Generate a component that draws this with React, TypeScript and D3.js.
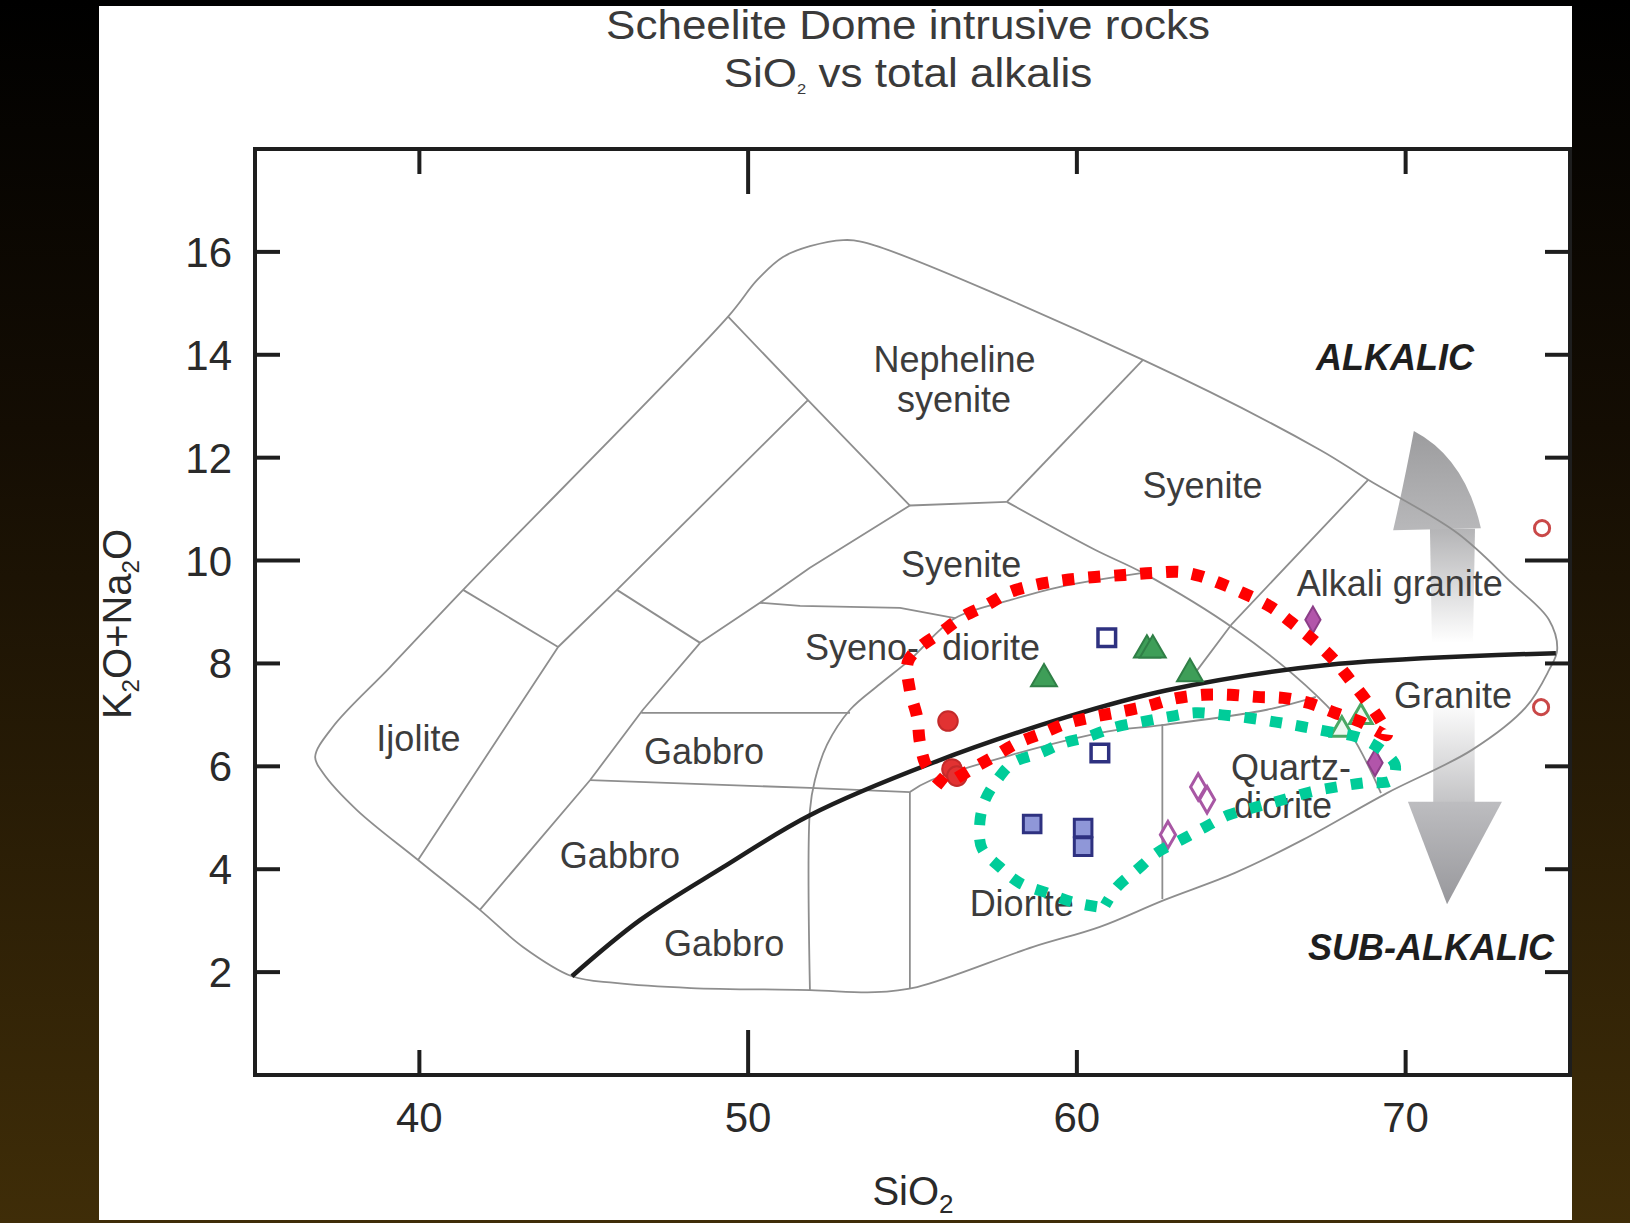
import * as d3 from 'd3';

type Pt = [number, number];

// axes
const xTicks = [40, 50, 60, 70];
const yTicks = [2, 4, 6, 8, 10, 12, 14, 16];

// TAS plutonic fields (SiO2 wt%, Na2O+K2O wt%)
const outline: Pt[] = [
  [36.83, 6.18], [37.37, 6.77], [39.11, 7.93], [41.33, 9.43], [49.39, 14.74], [50.27, 15.45],
  [51.06, 15.9], [51.88, 16.11], [52.89, 16.23], [53.62, 16.17], [62.01, 13.9], [67.4, 12.15],
  [68.86, 11.57], [71.56, 10.54], [73.24, 9.56], [74.36, 8.85], [74.61, 8.26], [74.36, 7.87],
  [73.66, 7.15], [72.02, 6.32], [69.43, 5.48], [66.87, 4.57], [64.81, 3.93], [62.65, 3.4],
  [60.7, 2.88], [58.67, 2.49], [55.14, 1.71], [53.86, 1.61], [51.88, 1.65], [48.26, 1.69],
  [45.95, 1.79], [44.64, 1.92], [43.15, 2.49], [41.84, 3.21], [39.96, 4.18], [38.1, 5.15], [37.07, 5.87],
];
const ijoliteTop: Pt[] = [[41.33, 9.43], [44.22, 8.32]];
const ijoliteRight: Pt[] = [[51.82, 13.12], [46.01, 9.43], [44.22, 8.32], [39.96, 4.18]];
const nephSyeniteLeft: Pt[] = [[49.39, 14.74], [51.82, 13.12], [54.92, 11.07]];
const stripTop: Pt[] = [[46.01, 9.43], [48.54, 8.4]];
const gabbroLeft: Pt[] = [[54.92, 11.07], [51.88, 9.86], [50.36, 9.18], [48.54, 8.4], [46.8, 7.1], [45.19, 5.73], [41.84, 3.21]];
const nephSyeniteBase: Pt[] = [[54.92, 11.07], [57.87, 11.14]];
const nephSyeniteRight: Pt[] = [[57.87, 11.14], [62.01, 13.9]];
const syeniteRight: Pt[] = [[57.87, 11.14], [60.55, 10.21], [62.01, 9.76], [64.84, 8.65], [67.27, 7.39], [68.31, 6.65], [69.25, 5.48]];
const alkGraniteLeft: Pt[] = [[68.86, 11.57], [64.72, 8.77], [63.44, 7.68]];
const dioriteTop: Pt[] = [[54.92, 5.5], [55.56, 5.73], [60.7, 6.65], [62.59, 6.8], [65.78, 7.1], [67.27, 7.35]];
const qtzDioriteLeft: Pt[] = [[62.6, 6.82], [62.6, 3.42]];
const gabbroTop: Pt[] = [[46.75, 7.04], [53.1, 7.04]];
const gabbroBase: Pt[] = [[45.19, 5.73], [51.88, 5.58], [54.92, 5.5]];
const syenoDioriteBase: Pt[] = [
  [51.88, 1.65], [51.88, 5.15], [52.03, 5.73], [52.4, 6.42], [53.1, 7.1], [54.01, 7.6],
  [54.92, 8.07], [56.29, 8.88], [57.97, 9.23], [59.49, 9.49], [62.01, 9.76],
];
const syenoDioriteTop: Pt[] = [[50.36, 9.18], [51.58, 9.12], [54.62, 9.08], [56.29, 8.88]];
const dioriteLeft: Pt[] = [[54.92, 1.69], [54.92, 5.5]];
const straightLines = [ijoliteTop, ijoliteRight, nephSyeniteLeft, stripTop, gabbroLeft, nephSyeniteBase,
  nephSyeniteRight, alkGraniteLeft, qtzDioriteLeft, gabbroTop, gabbroBase, syenoDioriteTop, dioriteLeft];
const curvedLines = [syeniteRight, dioriteTop, syenoDioriteBase];

// alkalic / sub-alkalic divide
const alkalicDivide: Pt[] = [
  [44.64, 1.92], [46.71, 3.01], [49.24, 4.04], [51.88, 5.05], [55.62, 6.07],
  [59.7, 6.96], [62.74, 7.48], [67.61, 7.97], [74.57, 8.2],
];

// samples
const redFilled: Pt[] = [[56.08, 6.88], [56.2, 5.95], [56.35, 5.81]];
const redOpen: Pt[] = [[74.15, 10.63], [74.12, 7.15]];
const blueOpen: Pt[] = [[60.91, 8.5], [60.7, 6.26]];
const blueFilled: Pt[] = [[58.64, 4.88], [60.19, 4.8], [60.19, 4.44]];
const greenFilled: Pt[] = [[59.0, 7.7], [62.13, 8.26], [62.31, 8.26], [63.44, 7.8]];
const greenOpen: Pt[] = [[68.06, 6.71], [68.64, 6.96]];
const purpleFilled: Pt[] = [[67.18, 8.85], [69.07, 6.07]];
const purpleOpen: Pt[] = [[63.69, 5.6], [63.96, 5.35], [62.77, 4.67]];

// hand drawn groupings
const redLoop: Pt[] = [
  [55.99, 5.64], [55.44, 5.99], [55.23, 6.45], [55.14, 6.96], [54.92, 7.48], [54.86, 8.03], [55.23, 8.32],
  [55.84, 8.59], [56.51, 8.9], [57.27, 9.14], [57.9, 9.37], [58.76, 9.53], [59.61, 9.62], [60.55, 9.68],
  [61.43, 9.72], [62.28, 9.76], [63.14, 9.78], [63.75, 9.7], [64.35, 9.56], [65.05, 9.37], [65.9, 9.1],
  [66.54, 8.79], [67.18, 8.46], [67.82, 8.07], [68.31, 7.68], [68.79, 7.29], [69.22, 6.9], [69.43, 6.61],
  [68.64, 6.86], [67.85, 7.04], [67.06, 7.23], [66.27, 7.33], [65.48, 7.35], [64.66, 7.39], [63.84, 7.39],
  [62.92, 7.31], [62.13, 7.17], [61.31, 7.06], [60.49, 6.96], [59.7, 6.84], [58.97, 6.65], [58.18, 6.45],
  [57.45, 6.18], [56.75, 5.93], [56.08, 5.66],
];
const greenLoop: Pt[] = [
  [60.61, 3.27], [59.88, 3.36], [59.09, 3.54], [58.27, 3.73], [57.66, 4.04], [57.11, 4.41], [57.05, 4.92],
  [57.21, 5.35], [57.57, 5.73], [58.06, 6.07], [58.88, 6.26], [59.58, 6.45], [60.31, 6.57], [61.1, 6.75],
  [61.92, 6.86], [62.77, 6.96], [63.59, 7.04], [64.41, 7.0], [65.24, 6.94], [66.06, 6.86], [66.88, 6.77],
  [67.7, 6.67], [68.52, 6.57], [69.13, 6.38], [69.68, 6.03], [69.56, 5.73], [68.73, 5.68], [67.91, 5.6],
  [67.09, 5.5], [66.27, 5.35], [65.45, 5.21], [64.6, 5.05], [63.9, 4.82], [63.17, 4.57], [62.44, 4.32],
  [61.83, 3.99], [61.22, 3.65], [60.86, 3.3],
];

const fieldLabels = [
  { text: 'Ijolite', x: 39.97, y: 6.29, anchor: 'middle' },
  { text: 'Gabbro', x: 48.66, y: 6.05, anchor: 'middle' },
  { text: 'Gabbro', x: 46.1, y: 4.03, anchor: 'middle' },
  { text: 'Gabbro', x: 49.27, y: 2.31, anchor: 'middle' },
  { text: 'Nepheline', x: 56.28, y: 13.67, anchor: 'middle' },
  { text: 'syenite', x: 56.26, y: 12.88, anchor: 'middle' },
  { text: 'Syenite', x: 63.82, y: 11.21, anchor: 'middle' },
  { text: 'Syenite', x: 56.48, y: 9.69, anchor: 'middle' },
  { text: 'Syeno-', x: 51.73, y: 8.07, anchor: 'start' },
  { text: 'diorite', x: 55.9, y: 8.07, anchor: 'start' },
  { text: 'Diorite', x: 58.32, y: 3.09, anchor: 'middle' },
  { text: 'Quartz-', x: 64.69, y: 5.73, anchor: 'start' },
  { text: 'diorite', x: 64.78, y: 5.0, anchor: 'start' },
  { text: 'Alkali granite', x: 69.82, y: 9.31, anchor: 'middle' },
  { text: 'Granite', x: 71.44, y: 7.13, anchor: 'middle' },
];

const FONT = '"Liberation Sans", Arial, Helvetica, sans-serif';

export default function App() {
  const W = 1630, H = 1223;
  const x = d3.scaleLinear().domain([35, 75]).range([255, 1570]);
  const y = d3.scaleLinear().domain([0, 18]).range([1075, 149]);

  const straight = d3.line<Pt>().x(d => x(d[0])).y(d => y(d[1]));
  const smooth = d3.line<Pt>().x(d => x(d[0])).y(d => y(d[1])).curve(d3.curveCatmullRom.alpha(0.5));
  const closed = d3.line<Pt>().x(d => x(d[0])).y(d => y(d[1])).curve(d3.curveCatmullRomClosed.alpha(0.5));

  const sym = (type: d3.SymbolType, size: number) => d3.symbol().type(type).size(size)() as string;
  const circleBig = sym(d3.symbolCircle, 300);
  const circleSmall = sym(d3.symbolCircle, 180);
  const square = sym(d3.symbolSquare, 310);
  const triangle = sym(d3.symbolTriangle, 290);
  const triangleSmall = sym(d3.symbolTriangle, 220);
  const diamond = sym(d3.symbolDiamond, 200);

  const [x0, x1] = x.range();
  const [yb, yt] = y.range();

  // gray direction arrows
  const upHead = `M${x(70.25)},${y(12.52)} Q${x(69.95)},${y(11.5)} ${x(69.62)},${y(10.59)} L${x(72.29)},${y(10.63)} Q${x(71.8)},${y(12.0)} ${x(70.25)},${y(12.52)}Z`;
  const upShaft = `M${x(70.74)},${y(10.62)} L${x(72.11)},${y(10.62)} L${x(72.05)},${y(8.4)} L${x(70.8)},${y(8.4)}Z`;
  const downShaft = `M${x(70.84)},${y(7.3)} L${x(72.1)},${y(7.3)} L${x(72.1)},${y(5.3)} L${x(70.84)},${y(5.3)}Z`;
  const downHead = `M${x(70.07)},${y(5.31)} L${x(72.93)},${y(5.31)} L${x(71.26)},${y(3.32)}Z`;

  const tickLen = (major: boolean) => (major ? 45 : 25);

  return (
    <div style={{ position: 'absolute', left: 0, top: 0 }}>
      <svg width={W} height={H} style={{ display: 'block' }} fontFamily={FONT}>
        <defs>
          <linearGradient id="bg" x1="0" y1="0" x2="0" y2="1">
            <stop offset="0" stopColor="#000000" />
            <stop offset="0.35" stopColor="#140d03" />
            <stop offset="1" stopColor="#3f2d08" />
          </linearGradient>
          <linearGradient id="upShaft" x1="0" y1="0" x2="0" y2="1">
            <stop offset="0" stopColor="#b4b4b6" />
            <stop offset="1" stopColor="#ffffff" />
          </linearGradient>
          <linearGradient id="downShaft" x1="0" y1="0" x2="0" y2="1">
            <stop offset="0" stopColor="#ffffff" />
            <stop offset="1" stopColor="#c4c4c6" />
          </linearGradient>
          <linearGradient id="upHead" x1="0" y1="0" x2="0" y2="1">
            <stop offset="0" stopColor="#9c9c9e" />
            <stop offset="1" stopColor="#b8b8ba" />
          </linearGradient>
          <linearGradient id="downHead" x1="0" y1="0" x2="0" y2="1">
            <stop offset="0" stopColor="#bdbdc0" />
            <stop offset="1" stopColor="#98989c" />
          </linearGradient>
        </defs>

        <rect width={W} height={H} fill="url(#bg)" />
        <rect x={99} y={6} width={1473} height={1214} fill="#ffffff" />

        {/* title */}
        <g transform="translate(908,0) scale(1.1,1)" fill="#3a3a3a" fontSize={40} textAnchor="middle">
          <text x={0} y={39}>Scheelite Dome intrusive rocks</text>
          <text x={0} y={87}>
            SiO<tspan fontSize={15} dy={7}>2</tspan><tspan dy={-7}> vs total alkalis</tspan>
          </text>
        </g>

        {/* arrows */}
        <path d={upShaft} fill="url(#upShaft)" />
        <path d={upHead} fill="url(#upHead)" />
        <path d={downShaft} fill="url(#downShaft)" />
        <path d={downHead} fill="url(#downHead)" />

        {/* field boundaries */}
        <g fill="none" stroke="#8e8e8e" strokeWidth={1.8} strokeLinejoin="round">
          <path d={closed(outline) as string} />
          {straightLines.map((l, i) => <path key={'s' + i} d={straight(l) as string} />)}
          {curvedLines.map((l, i) => <path key={'c' + i} d={smooth(l) as string} />)}
        </g>
        <path d={smooth(alkalicDivide) as string} fill="none" stroke="#1e1e1e" strokeWidth={4.5} />

        {/* field labels */}
        <g fill="#3c3c3c" fontSize={36}>
          {fieldLabels.map((l, i) => (
            <text key={i} x={x(l.x)} y={y(l.y)} textAnchor={l.anchor}>{l.text}</text>
          ))}
        </g>
        <g fill="#1e1e1e" fontSize={36} fontWeight="bold" fontStyle="italic" textAnchor="middle">
          <text x={x(69.68)} y={y(13.71)}>ALKALIC</text>
          <text x={x(70.77)} y={y(2.24)}>SUB-ALKALIC</text>
        </g>

        {/* samples */}
        {redOpen.map((d, i) => (
          <path key={'ro' + i} d={circleSmall} transform={`translate(${x(d[0])},${y(d[1])})`} fill="#ffffff" stroke="#c94848" strokeWidth={3} />
        ))}
        {blueOpen.map((d, i) => (
          <path key={'bo' + i} d={square} transform={`translate(${x(d[0])},${y(d[1])})`} fill="#ffffff" stroke="#2e3180" strokeWidth={3.5} />
        ))}
        {blueFilled.map((d, i) => (
          <path key={'bf' + i} d={square} transform={`translate(${x(d[0])},${y(d[1])})`} fill="#8f97d8" stroke="#2e3180" strokeWidth={3} />
        ))}
        {greenFilled.map((d, i) => (
          <path key={'gf' + i} d={triangle} transform={`translate(${x(d[0])},${y(d[1])})`} fill="#3e9e58" stroke="#2f7f46" strokeWidth={2} />
        ))}
        {greenOpen.map((d, i) => (
          <path key={'go' + i} d={triangleSmall} transform={`translate(${x(d[0])},${y(d[1])})`} fill="#eef8f0" stroke="#4aa864" strokeWidth={3} />
        ))}
        {purpleFilled.map((d, i) => (
          <path key={'pf' + i} d={diamond} transform={`translate(${x(d[0])},${y(d[1])})`} fill="#b255aa" stroke="#8c3e88" strokeWidth={2} />
        ))}
        {purpleOpen.map((d, i) => (
          <path key={'po' + i} d={diamond} transform={`translate(${x(d[0])},${y(d[1])})`} fill="#ffffff" stroke="#a857a4" strokeWidth={3} />
        ))}
        {redFilled.map((d, i) => (
          <path key={'rf' + i} d={circleBig} transform={`translate(${x(d[0])},${y(d[1])})`} fill="#e23232" stroke="#c42a2a" strokeWidth={2} />
        ))}

        {/* hand drawn groupings */}
        <path d={smooth(greenLoop) as string} fill="none" stroke="#00cc99" strokeWidth={11} strokeDasharray="12 14" />
        <path d={smooth(redLoop) as string} fill="none" stroke="#ff0000" strokeWidth={12} strokeDasharray="12 14" />

        {/* frame & ticks */}
        <rect x={x0} y={yt} width={x1 - x0} height={yb - yt} fill="none" stroke="#1e1e1e" strokeWidth={4} />
        <g stroke="#1e1e1e" strokeWidth={4}>
          {xTicks.map(t => (
            <g key={'xt' + t}>
              <line x1={x(t)} x2={x(t)} y1={yb} y2={yb - tickLen(t === 50)} />
              <line x1={x(t)} x2={x(t)} y1={yt} y2={yt + tickLen(t === 50)} />
            </g>
          ))}
          {yTicks.map(t => (
            <g key={'yt' + t}>
              <line x1={x0} x2={x0 + tickLen(t === 10)} y1={y(t)} y2={y(t)} />
              <line x1={x1} x2={x1 - tickLen(t === 10)} y1={y(t)} y2={y(t)} />
            </g>
          ))}
        </g>
        <g fill="#2a2a2a" fontSize={42}>
          {xTicks.map(t => (
            <text key={'xl' + t} x={x(t)} y={1132} textAnchor="middle">{t}</text>
          ))}
          {yTicks.map(t => (
            <text key={'yl' + t} x={232} y={y(t) + 15} textAnchor="end">{t}</text>
          ))}
        </g>

        {/* axis titles */}
        <text x={913} y={1205} fontSize={40} fill="#2a2a2a" textAnchor="middle">
          SiO<tspan fontSize={26} dy={8}>2</tspan>
        </text>
        <text transform="translate(131,624) rotate(-90)" fontSize={40} fill="#2a2a2a" textAnchor="middle">
          K<tspan fontSize={24} dy={8}>2</tspan><tspan dy={-8}>O+Na</tspan><tspan fontSize={24} dy={8}>2</tspan><tspan dy={-8}>O</tspan>
        </text>
      </svg>
    </div>
  );
}
